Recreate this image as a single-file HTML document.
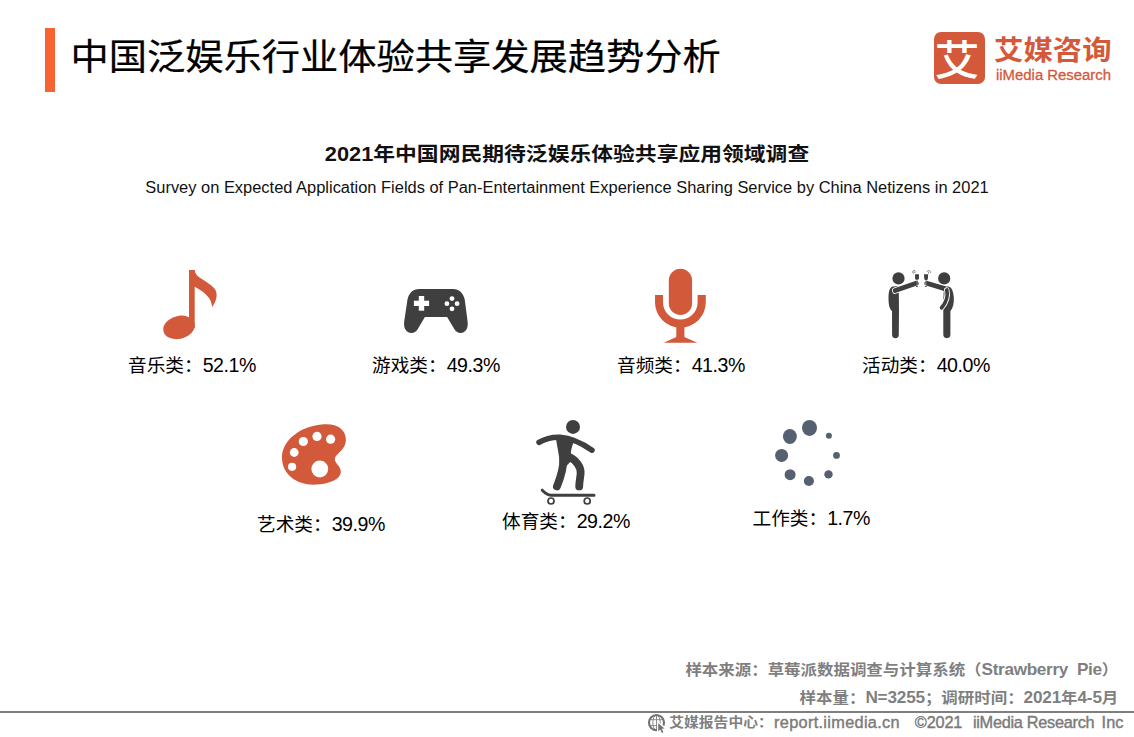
<!DOCTYPE html>
<html lang="zh-CN">
<head>
<meta charset="utf-8">
<title>中国泛娱乐行业体验共享发展趋势分析</title>
<style>
  html, body { margin: 0; padding: 0; }
  body {
    width: 1134px; height: 737px; position: relative; overflow: hidden;
    background: #ffffff; color: #000;
    font-family: "Liberation Sans", "Noto Sans CJK SC", sans-serif;
  }
  .abs { position: absolute; white-space: nowrap; line-height: 1; }
  #bar { left: 45px; top: 27.7px; width: 10px; height: 64.8px; background: #f86333; }
  #title { left: 70.6px; top: 39.2px; font-size: 38.25px; font-weight: 400; color: #000; -webkit-text-stroke: 0.25px #000; transform: scaleY(0.945); transform-origin: 0 50%; }
  #sub1 { left: 0; width: 1134px; text-align: center; top: 144.4px; font-size: 21.8px; font-weight: 700; color: #111; transform: scaleY(0.91); transform-origin: 50% 50%; }
  #sub2 { left: 0; width: 1134px; text-align: center; top: 179.3px; font-size: 16.44px; color: #111; }
  .lbl { font-size: 18.67px; color: #000; }
  .foot { font-size: 16.47px; font-weight: 700; color: #7f7f7f; text-align: right; transform: scaleY(0.92); transform-origin: 100% 50%; }
  #f1 { right: 15.8px; top: 661px; }
  #f2 { right: 15.8px; top: 689.2px; }
  .f3 { top: 714px; font-size: 16.3px; font-weight: 400; color: #7a7a7a; -webkit-text-stroke: 0.4px #7a7a7a; }
  #f3a { left: 669.2px; top: 715.4px; font-size: 14.8px; font-weight: 700; -webkit-text-stroke: 0; color: #7f7f7f; transform: scaleY(0.9); transform-origin: 0 50%; }
  .foot .lt { font-size: 17.2px; letter-spacing: -0.33px; }
  .foot .dg { font-size: 17.2px; letter-spacing: -0.2px; }
  .lbl .dg { font-size: 19.6px; letter-spacing: -0.45px; }
  #hr { left: 0; top: 711px; width: 1134px; height: 2px; background: #7f7f7f; }
  #logo-cn { left: 994px; top: 35.8px; font-size: 29.4px; font-weight: 700; color: #d4593a; transform: scaleY(0.93); transform-origin: 0 50%; }
  #logo-en { left: 996px; top: 67.6px; font-size: 14.9px; font-weight: 400; color: #d4593a; -webkit-text-stroke: 0.3px #d4593a; }
  #logo-box { left: 934px; top: 32px; width: 51px; height: 52px; border-radius: 7px; background: #d4593a; }
  #logo-ai { left: 931.6px; top: 38.2px; width: 51px; text-align: center; font-size: 45px; font-weight: 500; color: #fff; transform: scaleY(0.92); transform-origin: 50% 50%; }
  svg#icons { position: absolute; left: 0; top: 0; }
</style>
</head>
<body>
  <div class="abs" id="bar"></div>
  <div class="abs" id="title">中国泛娱乐行业体验共享发展趋势分析</div>

  <div class="abs" id="logo-box"></div>
  <div class="abs" id="logo-ai">艾</div>
  <div class="abs" id="logo-cn">艾媒咨询</div>
  <div class="abs" id="logo-en">iiMedia Research</div>

  <div class="abs" id="sub1">2021年中国网民期待泛娱乐体验共享应用领域调查</div>
  <div class="abs" id="sub2">Survey on Expected Application Fields of Pan-Entertainment Experience Sharing Service by China Netizens in 2021</div>

  <svg id="icons" width="1134" height="737" viewBox="0 0 1134 737">
    <!-- music note -->
    <g fill="#d2593a">
      <ellipse cx="179" cy="327.4" rx="16" ry="11.4" transform="rotate(-15 179 327.4)"/>
      <path d="M189,270 L194.7,270 C195,273.5 197,275.6 200,277.8 C205,281.3 210.5,284 214,288 C218,292.6 217.6,299 212.2,307.2 C211.5,299 207,293.5 194.7,286.8 L194.7,328 L189,328 Z"/>
    </g>
    <!-- gamepad -->
    <g>
      <path fill="#3f3f3f" d="M419.4,289 L453,289 C459.5,289 463.6,293.5 464.8,300 L467.6,321.5 C468.6,329 465,333 460.6,333 C457.8,333 456,331.8 454.6,329.6 L447.1,317 L424.9,317 L417.5,329.6 C416,331.8 414.2,333 411.4,333 C407,333 403.2,329 404.2,321.5 L407.4,300 C408.6,293.5 412.6,289 419.4,289 Z"/>
      <rect x="413.9" y="300.7" width="15.2" height="5.3" fill="#fff"/>
      <rect x="418.8" y="296" width="5.4" height="14.7" fill="#fff"/>
      <circle cx="452" cy="298.6" r="2.4" fill="#fff"/>
      <circle cx="452" cy="308.8" r="2.4" fill="#fff"/>
      <circle cx="446.9" cy="303.7" r="2.4" fill="#fff"/>
      <circle cx="457.1" cy="303.7" r="2.4" fill="#fff"/>
    </g>
    <!-- microphone -->
    <g fill="#d2593a">
      <rect x="668.8" y="268.8" width="23.3" height="46.2" rx="11.65"/>
      <path d="M655,295 L663,295 L663,302.3 A17.3,17.3 0 0 0 697.6,302.3 L697.6,295 L705.8,295 L705.8,302.3 A25.4,25.4 0 0 1 655,302.3 Z"/>
      <rect x="676.3" y="326" width="8.1" height="12"/>
      <path d="M663.8,342.8 L697.3,342.8 L684.4,337 L676.3,337 Z"/>
    </g>
    <!-- toast people -->
    <g fill="#3f3f3f" stroke="none">
      <circle cx="898.5" cy="278.4" r="6.1"/>
      <circle cx="944.2" cy="278.4" r="6.1"/>
      <!-- left body -->
      <path d="M892.6,286.4 L898.4,286.2 C898.9,290 899,300 899,310.7 L898.8,334.8 A3.35,3.35 0 0 1 892.1,334.8 L892,311 C889.6,309 888.5,305 888.5,298 C888.5,292 889.6,287.2 892.6,286.4 Z"/>
      <!-- right body -->
      <path d="M944,286.6 L948.5,286.4 C951.6,287 953.2,291 953.8,297 C954.2,303 953,308 950.4,311 L950.4,334.6 A3.55,3.55 0 0 1 943.3,334.6 L943.3,300 Z"/>
    </g>
    <g fill="none" stroke-linecap="round" stroke-linejoin="round">
      <path d="M895.2,290.6 L900,288.9" stroke="#fff" stroke-width="6.4"/>
      <path d="M895.2,290.6 L916.2,283.3" stroke="#3f3f3f" stroke-width="4.8"/>
      <path d="M944.6,288.6 L926.8,283.3" stroke="#3f3f3f" stroke-width="4.8"/>
      <path d="M946.8,290 C948.4,297 946.5,302 941.6,307.8" stroke="#fff" stroke-width="5.4"/>
      <path d="M946.8,290 C948.4,297 946.5,302 941.6,307.8" stroke="#3f3f3f" stroke-width="3.7"/>
    </g>
    <!-- glasses -->
    <g fill="#3f3f3f">
      <path d="M915.05,274.2 L918.95,274.2 L918.95,278.6 C918.95,279.3 918.5,279.7 917.9,279.7 L916.1,279.7 C915.5,279.7 915.05,279.3 915.05,278.6 Z"/>
      <path d="M924.05,274.2 L928.1,274.2 L928,277.6 C927.9,279.4 927.2,280.5 926.1,280.5 C925,280.5 924.25,279.4 924.15,277.6 Z"/>
      <ellipse cx="917" cy="286.4" rx="1.15" ry="0.5"/>
      <ellipse cx="925.9" cy="286.4" rx="1.15" ry="0.5"/>
      <rect x="916.7" y="279.5" width="0.7" height="7" fill="#9a9a9a"/>
    </g>
    <path d="M925.85,280.6 L925.85,286.2" stroke="#e8e8e8" stroke-width="0.6" fill="none"/>
    <g fill="none" stroke="#666" stroke-width="0.75" stroke-linecap="round">
      <path d="M914.6,270.4 C912.6,270.2 911.8,272 913.4,273.4 M913.6,272.2 L915.6,272"/>
      <path d="M927.4,271.2 C928.2,269.8 930.6,270.2 930.6,272.6 M928.6,273.4 C928.8,272.4 928.4,271.6 928,271.4"/>
    </g>
    <!-- palette -->
    <g>
      <path fill="#d2593a" d="M282,459 C281,441 300,425.5 324,424.2 C339,423.4 347,431 345.8,441.5 C344.8,450 336.5,453.5 335,458 C333.5,463 341.5,466 340.8,472.5 C340,479.5 329,484 316,484.6 C297,485.5 283,475 282,459 Z"/>
      <g fill="#fff">
        <circle cx="292.1" cy="466.8" r="4.1"/>
        <circle cx="294.2" cy="452.5" r="4.4"/>
        <circle cx="303.3" cy="441.5" r="4.6"/>
        <circle cx="317" cy="436.4" r="4.6"/>
        <circle cx="330.6" cy="439.2" r="4.6"/>
        <circle cx="319.8" cy="469" r="8.4"/>
      </g>
    </g>
    <!-- skater -->
    <g>
      <circle cx="573" cy="426.9" r="7" fill="#3f3f3f"/>
      <path fill="#3f3f3f" d="M555.6,436.2 C560,434.6 568,436.6 573.8,440 C572.6,446 570.6,450 570.8,454 L573.4,458.6 L566.4,466 L559.6,464 C559.6,455 556.8,446 555.6,436.2 Z"/>
      <g fill="none" stroke="#3f3f3f" stroke-linecap="round" stroke-linejoin="round">
        <path d="M539,442.4 C546,438 552,437 560,437.2 C573,438.2 584,444.6 592,450.2" stroke-width="5.5"/>
        <path d="M563.4,458 C563.6,468 560.4,478 556.9,486.4" stroke-width="7.8"/>
        <path d="M568.5,456.5 C576,460 581.5,467 580.6,474 C580,479 579.2,483 579.2,486.4" stroke-width="7.8"/>
        <path d="M542.2,490.2 C544.6,492.6 547.4,495 551,495.3 L594,495.3" stroke-width="3"/>
        <circle cx="551" cy="501" r="3" stroke-width="1.7"/>
        <circle cx="587.2" cy="501" r="3" stroke-width="1.7"/>
      </g>
    </g>
    <!-- spinner -->
    <g fill="#556170">
      <ellipse cx="809.5" cy="427.9" rx="7.5" ry="8"/>
      <ellipse cx="789.9" cy="436.5" rx="6.95" ry="7.45"/>
      <circle cx="781.6" cy="455.4" r="6.5"/>
      <circle cx="790.1" cy="474.7" r="5.5"/>
      <circle cx="808.9" cy="481" r="5.1"/>
      <circle cx="828.5" cy="474.4" r="4.2"/>
      <circle cx="836.5" cy="455.4" r="3.4"/>
      <circle cx="828.9" cy="435.8" r="3"/>
    </g>
    <!-- globe icon -->
    <g fill="none" stroke="#8c8c8c" stroke-width="1">
      <path d="M656.5,715.4 L656.5,729.8 M649.6,719.7 L663.4,719.7 M649.6,725.6 L663.4,725.6"/>
      <ellipse cx="656.5" cy="722.6" rx="3.7" ry="7.4"/>
    </g>
    <circle cx="656.5" cy="722.6" r="7.55" fill="none" stroke="#727272" stroke-width="2.1"/>
    <path fill="#fff" d="M657,721.4 L657,733.4 L665.6,733.8 L666.4,727.6 Z"/>
    <path fill="#727272" d="M658.2,723.2 L658.2,731.3 L660.2,729.5 L661.9,733 L663.4,732.3 L661.8,728.8 L664.6,728.4 Z"/>
  </svg>

  <div class="abs lbl" style="left:128px; top:355.8px;">音乐类：<span class="dg">52.1%</span></div>
  <div class="abs lbl" style="left:372px; top:355.8px;">游戏类：<span class="dg">49.3%</span></div>
  <div class="abs lbl" style="left:617px; top:355.8px;">音频类：<span class="dg">41.3%</span></div>
  <div class="abs lbl" style="left:862px; top:355.8px;">活动类：<span class="dg">40.0%</span></div>
  <div class="abs lbl" style="left:257px; top:515.2px;">艺术类：<span class="dg">39.9%</span></div>
  <div class="abs lbl" style="left:502px; top:512.4px;">体育类：<span class="dg">29.2%</span></div>
  <div class="abs lbl" style="left:752.5px; top:509.2px;">工作类：<span class="dg">1.7%</span></div>

  <div class="abs foot" id="f1">样本来源：草莓派数据调查与计算系统（<span class="lt">Strawberry&nbsp; Pie</span>）</div>
  <div class="abs foot" id="f2">样本量：<span class="dg">N=3255</span>；调研时间：<span class="dg">2021</span>年<span class="dg">4-5</span>月</div>
  <div class="abs" id="hr"></div>
  <div class="abs f3" id="f3a">艾媒报告中心：</div>
  <div class="abs f3" style="left:774px; letter-spacing:0.33px;">report.iimedia.cn</div>
  <div class="abs f3" style="left:914.8px; letter-spacing:-0.15px;">©2021</div>
  <div class="abs f3" style="left:972.9px; letter-spacing:-0.27px;">iiMedia Research</div>
  <div class="abs f3" style="left:1101.6px; letter-spacing:0.1px;">Inc</div>
</body>
</html>
